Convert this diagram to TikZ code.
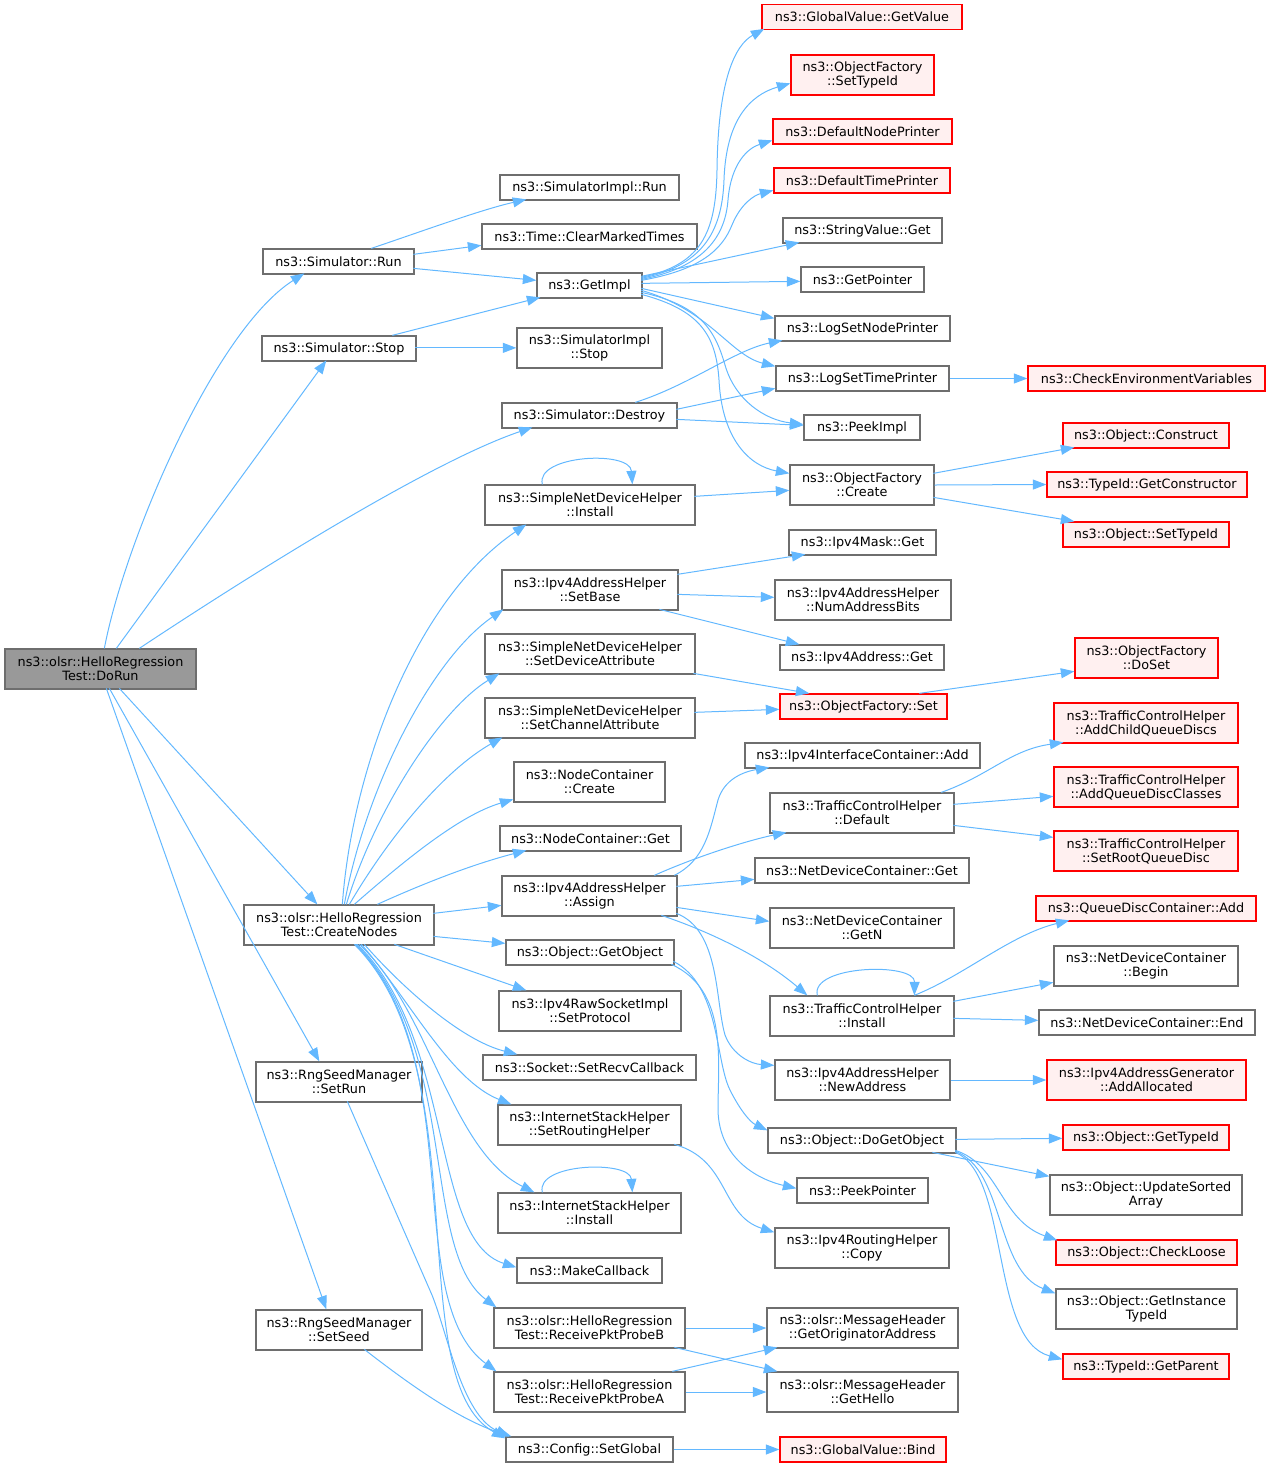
\documentclass[tikz,border=0pt]{standalone}
\usepackage{fontspec}
\setmainfont{DejaVu Sans}
\usetikzlibrary{arrows.meta,calc}
\definecolor{edgeblue}{HTML}{63B8FF}
\definecolor{boxgray}{HTML}{6E6E6E}
\definecolor{boxred}{HTML}{FF0000}
\definecolor{redfill}{HTML}{FFF0F0}
\definecolor{rootfill}{HTML}{999999}
\tikzset{
  nb/.style={draw=boxgray, fill=white, line width=1.3pt, inner sep=0pt, align=center,
    minimum height=25pt, font=\fontsize{12.8}{14}\selectfont},
  nr/.style={nb, draw=boxred, fill=redfill},
  two/.style={minimum height=40pt},
  edg/.style={draw=edgeblue, line width=1pt, -{Triangle[length=13.5pt,width=10pt]}},
}
\begin{document}
\begin{tikzpicture}[x=1pt,y=-1pt]
\useasboundingbox (0,0) rectangle (1271,1468);
% column 1-2
\node[nb,two,fill=rootfill,minimum width=191pt] (DoRun) at (100.5,669) {ns3::olsr::HelloRegression\\Test::DoRun};
\node[nb,minimum width=151pt] (SimRun) at (338.5,261.5) {ns3::Simulator::Run};
\node[nb,minimum width=154pt] (SimStop) at (339,348.5) {ns3::Simulator::Stop};
\node[nb,two,minimum width=190pt] (CreateNodes) at (339,925) {ns3::olsr::HelloRegression\\Test::CreateNodes};
\node[nb,two,minimum width=166pt] (SetRun) at (339,1082) {ns3::RngSeedManager\\::SetRun};
\node[nb,two,minimum width=166pt] (SetSeed) at (339,1330) {ns3::RngSeedManager\\::SetSeed};
% column 3
\node[nb,minimum width=179pt] (SimImplRun) at (589.5,187.5) {ns3::SimulatorImpl::Run};
\node[nb,minimum width=215pt] (ClearMarked) at (589.5,236.5) {ns3::Time::ClearMarkedTimes};
\node[nb,minimum width=105pt] (GetImpl) at (589.5,285.5) {ns3::GetImpl};
\node[nb,two,minimum width=145pt] (SimImplStop) at (589.5,348) {ns3::SimulatorImpl\\::Stop};
\node[nb,minimum width=175pt] (Destroy) at (589.5,415.5) {ns3::Simulator::Destroy};
\node[nb,two,minimum width=210pt] (SNDHInstall) at (590,505) {ns3::SimpleNetDeviceHelper\\::Install};
\node[nb,two,minimum width=176pt] (SetBase) at (590,590) {ns3::Ipv4AddressHelper\\::SetBase};
\node[nb,two,minimum width=210pt] (SetDevAttr) at (590,654) {ns3::SimpleNetDeviceHelper\\::SetDeviceAttribute};
\node[nb,two,minimum width=210pt] (SetChanAttr) at (590,718) {ns3::SimpleNetDeviceHelper\\::SetChannelAttribute};
\node[nb,two,minimum width=151pt] (NCCreate) at (589.5,782) {ns3::NodeContainer\\::Create};
\node[nb,minimum width=181pt] (NCGet) at (590.5,838.5) {ns3::NodeContainer::Get};
\node[nb,two,minimum width=175pt] (Assign) at (589.5,896) {ns3::Ipv4AddressHelper\\::Assign};
\node[nb,minimum width=168pt] (GetObject) at (590,952.5) {ns3::Object::GetObject};
\node[nb,two,minimum width=182pt] (SetProtocol) at (590,1011) {ns3::Ipv4RawSocketImpl\\::SetProtocol};
\node[nb,minimum width=213pt] (SetRecv) at (589.5,1067.5) {ns3::Socket::SetRecvCallback};
\node[nb,two,minimum width=183pt] (SetRouting) at (589.5,1125) {ns3::InternetStackHelper\\::SetRoutingHelper};
\node[nb,two,minimum width=183pt] (ISHInstall) at (589.5,1213) {ns3::InternetStackHelper\\::Install};
\node[nb,minimum width=145pt] (MakeCallback) at (589.5,1270.5) {ns3::MakeCallback};
\node[nb,two,minimum width=191pt] (ProbeB) at (589.5,1328) {ns3::olsr::HelloRegression\\Test::ReceivePktProbeB};
\node[nb,two,minimum width=191pt] (ProbeA) at (589.5,1392) {ns3::olsr::HelloRegression\\Test::ReceivePktProbeA};
\node[nb,minimum width=167pt] (SetGlobal) at (589.5,1449.5) {ns3::Config::SetGlobal};
% column 4
\node[nr,minimum width=200pt] (GVGetValue) at (862,17) {ns3::GlobalValue::GetValue};
\node[nr,two,minimum width=143pt] (OFSetTypeId) at (862.5,75) {ns3::ObjectFactory\\::SetTypeId};
\node[nr,minimum width=179pt] (DefNodePrinter) at (862.5,131.5) {ns3::DefaultNodePrinter};
\node[nr,minimum width=176pt] (DefTimePrinter) at (862,180.5) {ns3::DefaultTimePrinter};
\node[nb,minimum width=159pt] (StringValueGet) at (862.5,230.5) {ns3::StringValue::Get};
\node[nb,minimum width=123pt] (GetPointer) at (862.5,279.5) {ns3::GetPointer};
\node[nb,minimum width=175pt] (LogSetNodePrinter) at (862.5,328.5) {ns3::LogSetNodePrinter};
\node[nb,minimum width=173pt] (LogSetTimePrinter) at (862.5,378.5) {ns3::LogSetTimePrinter};
\node[nb,minimum width=116pt] (PeekImpl) at (862,427.5) {ns3::PeekImpl};
\node[nb,two,minimum width=144pt] (OFCreate) at (862,485) {ns3::ObjectFactory\\::Create};
\node[nb,minimum width=147pt] (Ipv4MaskGet) at (862.5,542.5) {ns3::Ipv4Mask::Get};
\node[nb,two,minimum width=176pt] (NumAddrBits) at (863,600) {ns3::Ipv4AddressHelper\\::NumAddressBits};
\node[nb,minimum width=164pt] (Ipv4AddrGet) at (862,657.5) {ns3::Ipv4Address::Get};
\node[nr,minimum width=167pt] (OFSet) at (863.5,706.5) {ns3::ObjectFactory::Set};
\node[nb,minimum width=235pt] (IfcAdd) at (862.5,755.5) {ns3::Ipv4InterfaceContainer::Add};
\node[nb,two,minimum width=184pt] (TCHDefault) at (862,813) {ns3::TrafficControlHelper\\::Default};
\node[nb,minimum width=214pt] (NDCGet) at (862,870.5) {ns3::NetDeviceContainer::Get};
\node[nb,two,minimum width=184pt] (NDCGetN) at (862,928) {ns3::NetDeviceContainer\\::GetN};
\node[nb,two,minimum width=184pt] (TCHInstall) at (862,1016) {ns3::TrafficControlHelper\\::Install};
\node[nb,two,minimum width=175pt] (NewAddress) at (862.5,1080) {ns3::Ipv4AddressHelper\\::NewAddress};
\node[nb,minimum width=188pt] (DoGetObject) at (862,1140.5) {ns3::Object::DoGetObject};
\node[nb,minimum width=131pt] (PeekPointer) at (862.5,1190.5) {ns3::PeekPointer};
\node[nb,two,minimum width=174pt] (RoutingCopy) at (862,1248) {ns3::Ipv4RoutingHelper\\::Copy};
\node[nb,two,minimum width=191pt] (GetOrigAddr) at (862.5,1328) {ns3::olsr::MessageHeader\\::GetOriginatorAddress};
\node[nb,two,minimum width=191pt] (GetHello) at (862.5,1392) {ns3::olsr::MessageHeader\\::GetHello};
\node[nr,minimum width=166pt] (GVBind) at (863,1449.5) {ns3::GlobalValue::Bind};
% column 5
\node[nr,minimum width=237pt] (CheckEnv) at (1146.5,378.5) {ns3::CheckEnvironmentVariables};
\node[nr,minimum width=166pt] (ObjConstruct) at (1146,435.5) {ns3::Object::Construct};
\node[nr,minimum width=200pt] (GetConstructor) at (1147,484.5) {ns3::TypeId::GetConstructor};
\node[nr,minimum width=166pt] (ObjSetTypeId) at (1146,534.5) {ns3::Object::SetTypeId};
\node[nr,two,minimum width=143pt] (OFDoSet) at (1146.5,658) {ns3::ObjectFactory\\::DoSet};
\node[nr,two,minimum width=184pt] (AddChildQD) at (1146,723) {ns3::TrafficControlHelper\\::AddChildQueueDiscs};
\node[nr,two,minimum width=184pt] (AddQDClasses) at (1146,787) {ns3::TrafficControlHelper\\::AddQueueDiscClasses};
\node[nr,two,minimum width=184pt] (SetRootQD) at (1146,851) {ns3::TrafficControlHelper\\::SetRootQueueDisc};
\node[nr,minimum width=220pt] (QDCAdd) at (1146,908.5) {ns3::QueueDiscContainer::Add};
\node[nb,two,minimum width=184pt] (NDCBegin) at (1146,966) {ns3::NetDeviceContainer\\::Begin};
\node[nb,minimum width=216pt] (NDCEnd) at (1147,1022.5) {ns3::NetDeviceContainer::End};
\node[nr,two,minimum width=199pt] (AddAllocated) at (1146.5,1080) {ns3::Ipv4AddressGenerator\\::AddAllocated};
\node[nr,minimum width=166pt] (ObjGetTypeId) at (1146,1137.5) {ns3::Object::GetTypeId};
\node[nb,two,minimum width=192pt] (UpdateSorted) at (1146,1195) {ns3::Object::UpdateSorted\\Array};
\node[nr,minimum width=181pt] (CheckLoose) at (1146.5,1252.5) {ns3::Object::CheckLoose};
\node[nb,two,minimum width=181pt] (GetInstanceTypeId) at (1146.5,1309) {ns3::Object::GetInstance\\TypeId};
\node[nr,minimum width=166pt] (GetParent) at (1146,1366.5) {ns3::TypeId::GetParent};

% edges from DoRun
\draw[edg] ($(DoRun.north west)+(100,0)$) .. controls (125,540) and (215,330) .. ($(SimRun.north west)+(42,25)$);
\draw[edg] ($(DoRun.north west)+(112,0)$) -- ($(SimStop.north west)+(65,25)$);
\draw[edg] ($(DoRun.north west)+(135,0)$) .. controls (250,575) and (430,462) .. ($(Destroy.north west)+(31,25)$);
\draw[edg] ($(DoRun.north west)+(115,40)$) -- ($(CreateNodes.north west)+(74,0)$);
\draw[edg] ($(DoRun.north west)+(105,40)$) -- ($(SetRun.north west)+(64,0)$);
\draw[edg] ($(DoRun.north west)+(102,40)$) -- ($(SetSeed.north west)+(71,0)$);
% Simulator::Run / Stop / Destroy
\draw[edg] ($(SimRun.north west)+(109,0)$) .. controls (420,232) and (480,210) .. ($(SimImplRun.north west)+(27,25)$);
\draw[edg] ($(SimRun.north west)+(151,6)$) -- ($(ClearMarked.north west)+(0,22)$);
\draw[edg] ($(SimRun.north west)+(151,20)$) -- ($(GetImpl.north west)+(0,8)$);
\draw[edg] ($(SimStop.north west)+(131,0)$) -- ($(GetImpl.north west)+(4,25)$);
\draw[edg] ($(SimStop.north west)+(154,12.5)$) -- ($(SimImplStop.north west)+(0,20.5)$);
\draw[edg] ($(Destroy.north west)+(134,0)$) .. controls (690,385) and (735,350) .. ($(LogSetNodePrinter.north west)+(8,25)$);
\draw[edg] ($(Destroy.north west)+(175,7)$) -- ($(LogSetTimePrinter.north west)+(0,23)$);
\draw[edg] ($(Destroy.north west)+(175,17)$) -- ($(PeekImpl.north west)+(0,11)$);
% GetImpl
\draw[edg] ($(GetImpl.north west)+(105,5)$) .. controls (700,265) and (716,235) .. (717,170) .. controls (718,80) and (735,45) .. ($(GVGetValue.north west)+(3,25)$);
\draw[edg] ($(GetImpl.north west)+(105,6)$) .. controls (700,266) and (722,235) .. (724,180) .. controls (726,120) and (750,95) .. ($(OFSetTypeId.north west)+(0,29)$);
\draw[edg] ($(GetImpl.north west)+(105,7)$) .. controls (700,268) and (725,240) .. (728,200) .. controls (731,163) and (748,148) .. ($(DefNodePrinter.north west)+(0,22)$);
\draw[edg] ($(GetImpl.north west)+(105,8)$) .. controls (700,270) and (722,250) .. (732,225) .. controls (741,203) and (755,195) .. ($(DefTimePrinter.north west)+(0,23)$);
\draw[edg] ($(GetImpl.north west)+(105,4)$) -- ($(StringValueGet.north west)+(17,25)$);
\draw[edg] ($(GetImpl.north west)+(105,11)$) -- ($(GetPointer.north west)+(0,15)$);
\draw[edg] ($(GetImpl.north west)+(105,16)$) -- ($(LogSetNodePrinter.north west)+(0,3)$);
\draw[edg] ($(GetImpl.north west)+(105,18)$) .. controls (710,310) and (730,355) .. ($(LogSetTimePrinter.north west)+(0,1)$);
\draw[edg] ($(GetImpl.north west)+(105,20)$) .. controls (700,305) and (715,330) .. (725,365) .. controls (735,400) and (765,420) .. ($(PeekImpl.north west)+(0,10)$);
\draw[edg] ($(GetImpl.north west)+(105,22)$) .. controls (700,310) and (716,335) .. (719,380) .. controls (722,440) and (750,466) .. ($(OFCreate.north west)+(0,9)$);
\draw[edg] (LogSetTimePrinter.east) -- (CheckEnv.west);
% ObjectFactory::Create
\draw[edg] ($(OFCreate.north west)+(144,9)$) -- ($(ObjConstruct.north west)+(12,25)$);
\draw[edg] (OFCreate.east) -- (GetConstructor.west);
\draw[edg] ($(OFCreate.north west)+(144,33)$) -- ($(ObjSetTypeId.north west)+(12,0)$);
% SimpleNetDeviceHelper::Install
\draw[edg] ($(SNDHInstall.north west)+(58,0)$) .. controls (535,455) and (630,450) .. ($(SNDHInstall.north west)+(148,0)$);
\draw[edg] ($(SNDHInstall.north west)+(210,12)$) -- ($(OFCreate.north west)+(0,26)$);
% CreateNodes
\draw[edg] ($(CreateNodes.north west)+(99,0)$) .. controls (352,770) and (415,600) .. ($(SNDHInstall.north west)+(42,40)$);
\draw[edg] ($(CreateNodes.north west)+(101,0)$) .. controls (365,790) and (430,660) .. ($(SetBase.north west)+(2,40)$);
\draw[edg] ($(CreateNodes.north west)+(103,0)$) .. controls (375,810) and (440,710) .. ($(SetDevAttr.north west)+(15,40)$);
\draw[edg] ($(CreateNodes.north west)+(106,0)$) .. controls (390,835) and (445,770) .. ($(SetChanAttr.north west)+(18,40)$);
\draw[edg] ($(CreateNodes.north west)+(111,0)$) .. controls (405,860) and (460,815) .. ($(NCCreate.north west)+(0,38)$);
\draw[edg] ($(CreateNodes.north west)+(134,0)$) .. controls (420,885) and (470,865) .. ($(NCGet.north west)+(27,25)$);
\draw[edg] ($(CreateNodes.north west)+(190,9)$) -- ($(Assign.north west)+(0,30)$);
\draw[edg] ($(CreateNodes.north west)+(190,32)$) -- ($(GetObject.north west)+(0,4)$);
\draw[edg] ($(CreateNodes.north west)+(151,40)$) -- ($(SetProtocol.north west)+(28,0)$);
\draw[edg] ($(CreateNodes.north west)+(121,40)$) .. controls (400,985) and (460,1040) .. ($(SetRecv.north west)+(35,0)$);
\draw[edg] ($(CreateNodes.north west)+(118,40)$) .. controls (410,1000) and (450,1080) .. ($(SetRouting.north west)+(14,0)$);
\draw[edg] ($(CreateNodes.north west)+(116,40)$) .. controls (430,1010) and (450,1150) .. ($(ISHInstall.north west)+(37,0)$);
\draw[edg] ($(CreateNodes.north west)+(114,40)$) .. controls (455,1040) and (430,1240) .. ($(MakeCallback.north west)+(0,10)$);
\draw[edg] ($(CreateNodes.north west)+(113,40)$) .. controls (460,1050) and (420,1250) .. ($(ProbeB.north west)+(3,0)$);
\draw[edg] ($(CreateNodes.north west)+(112,40)$) .. controls (470,1060) and (400,1300) .. ($(ProbeA.north west)+(3,0)$);
\draw[edg] ($(CreateNodes.north west)+(111,40)$) .. controls (480,1070) and (400,1380) .. ($(SetGlobal.north west)+(0,2)$);
% RngSeedManager
\draw[edg] ($(SetRun.north west)+(92,40)$) -- (432,1295) .. controls (448,1335) and (462,1415) .. ($(SetGlobal.north west)+(4,0)$);
\draw[edg] ($(SetSeed.north west)+(109,40)$) .. controls (410,1385) and (460,1420) .. ($(SetGlobal.north west)+(6,0)$);
\draw[edg] (SetGlobal.east) -- (GVBind.west);
% probes
\draw[edg] (ProbeB.east) -- (GetOrigAddr.west);
\draw[edg] ($(ProbeB.north west)+(181,40)$) -- ($(GetHello.north west)+(11,0)$);
\draw[edg] ($(ProbeA.north west)+(179,0)$) -- ($(GetOrigAddr.north west)+(11,40)$);
\draw[edg] (ProbeA.east) -- (GetHello.west);
% routing, install loops
\draw[edg] ($(SetRouting.north west)+(177,40)$) .. controls (730,1160) and (720,1215) .. ($(RoutingCopy.north west)+(0,5)$);
\draw[edg] ($(ISHInstall.north west)+(45,0)$) .. controls (535,1163) and (630,1160) .. ($(ISHInstall.north west)+(135,0)$);
% GetObject
\draw[edg] ($(GetObject.north west)+(168,22)$) .. controls (720,985) and (715,1060) .. (730,1090) .. controls (740,1110) and (750,1122) .. ($(DoGetObject.north west)+(0,3)$);
\draw[edg] ($(GetObject.north west)+(166,25)$) .. controls (728,990) and (718,1060) .. (718,1110) .. controls (719,1160) and (760,1180) .. ($(PeekPointer.north west)+(0,11)$);
% Assign
\draw[edg] ($(Assign.north west)+(173,0)$) .. controls (705,860) and (710,830) .. (718,800) .. controls (724,780) and (742,772) .. ($(IfcAdd.north west)+(25,25)$);
\draw[edg] ($(Assign.north west)+(153,0)$) .. controls (700,855) and (750,840) .. ($(TCHDefault.north west)+(17,40)$);
\draw[edg] ($(Assign.north west)+(175,11)$) -- ($(NDCGet.north west)+(0,22)$);
\draw[edg] ($(Assign.north west)+(175,32)$) -- ($(NDCGetN.north west)+(0,14)$);
\draw[edg] ($(Assign.north west)+(160,40)$) .. controls (705,930) and (760,955) .. ($(TCHInstall.north west)+(38,0)$);
\draw[edg] ($(Assign.north west)+(175,38)$) .. controls (720,930) and (715,1000) .. (725,1035) .. controls (733,1056) and (752,1064) .. ($(NewAddress.north west)+(0,6)$);
% TrafficControlHelper
\draw[edg] ($(TCHDefault.north west)+(172,0)$) .. controls (990,775) and (1010,750) .. ($(AddChildQD.north west)+(10,40)$);
\draw[edg] ($(TCHDefault.north west)+(184,12)$) -- ($(AddQDClasses.north west)+(0,30)$);
\draw[edg] ($(TCHDefault.north west)+(184,33)$) -- ($(SetRootQD.north west)+(0,7)$);
\draw[edg] ($(TCHInstall.north west)+(48,0)$) .. controls (810,965) and (915,962) .. ($(TCHInstall.north west)+(145,0)$);
\draw[edg] ($(TCHInstall.north west)+(145,0)$) .. controls (965,975) and (1010,935) .. ($(QDCAdd.north west)+(34,25)$);
\draw[edg] ($(TCHInstall.north west)+(184,6)$) -- ($(NDCBegin.north west)+(0,37)$);
\draw[edg] ($(TCHInstall.north west)+(184,23)$) -- ($(NDCEnd.north west)+(0,11)$);
\draw[edg] (NewAddress.east) -- (AddAllocated.west);
% DoGetObject
\draw[edg] ($(DoGetObject.north west)+(188,12)$) -- ($(ObjGetTypeId.north west)+(0,14)$);
\draw[edg] ($(DoGetObject.north west)+(165,25)$) -- ($(UpdateSorted.north west)+(0,2)$);
\draw[edg] ($(DoGetObject.north west)+(188,23)$) .. controls (1000,1165) and (1000,1220) .. ($(CheckLoose.north west)+(2,1)$);
\draw[edg] ($(DoGetObject.north west)+(188,24)$) .. controls (1005,1170) and (995,1270) .. ($(GetInstanceTypeId.north west)+(0,5)$);
\draw[edg] ($(DoGetObject.north west)+(188,25)$) .. controls (1010,1175) and (990,1340) .. ($(GetParent.north west)+(0,6)$);
% ObjectFactory::Set and SetBase
\draw[edg] ($(OFSet.north west)+(140,0)$) -- ($(OFDoSet.north west)+(0,34)$);
\draw[edg] ($(SetDevAttr.north west)+(209,40)$) -- ($(OFSet.north west)+(30,0)$);
\draw[edg] ($(SetChanAttr.north west)+(210,15)$) -- ($(OFSet.north west)+(0,16)$);
\draw[edg] ($(SetBase.north west)+(176,5)$) -- ($(Ipv4MaskGet.north west)+(17,25)$);
\draw[edg] ($(SetBase.north west)+(176,25)$) -- ($(NumAddrBits.north west)+(0,18)$);
\draw[edg] ($(SetBase.north west)+(158,40)$) -- ($(Ipv4AddrGet.north west)+(20,0)$);
\end{tikzpicture}
\end{document}
